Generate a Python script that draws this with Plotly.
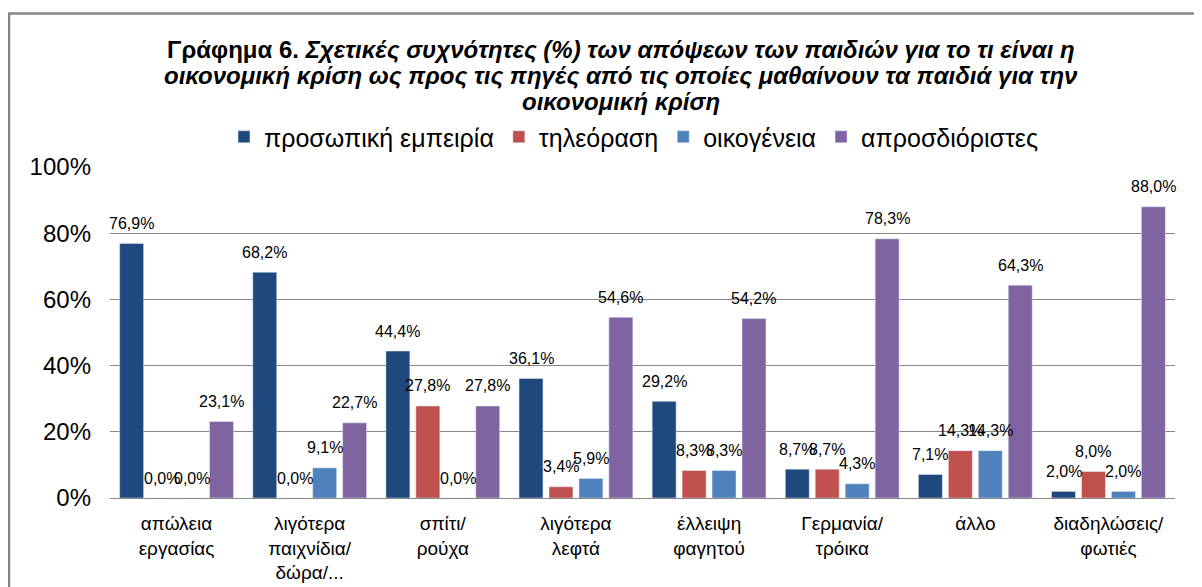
import plotly.graph_objects as go

categories = ["απώλεια<br>εργασίας", "λιγότερα<br>παιχνίδια/<br>δώρα/...", "σπίτι/<br>ρούχα",
              "λιγότερα<br>λεφτά", "έλλειψη<br>φαγητού", "Γερμανία/<br>τρόικα", "άλλο",
              "διαδηλώσεις/<br>φωτιές"]
series_names = ["προσωπική εμπειρία", "τηλεόραση", "οικογένεια", "απροσδιόριστες"]
personal = [76.9, 68.2, 44.4, 36.1, 29.2, 8.7, 7.1, 2.0]
tv = [0.0, 0.0, 27.8, 3.4, 8.3, 8.7, 14.3, 8.0]
family = [0.0, 9.1, 0.0, 5.9, 8.3, 4.3, 14.3, 2.0]
unspecified = [23.1, 22.7, 27.8, 54.6, 54.2, 78.3, 64.3, 88.0]
colors = ["#1F497D", "#C0504D", "#4F81BD", "#8064A2"]
y_ticks = [0, 20, 40, 60, 80, 100]
title_lines = [
    "<b>Γράφημα 6. <i>Σχετικές συχνότητες (%) των απόψεων των παιδιών για το τι είναι η</i></b>",
    "<b><i>οικονομική κρίση ως προς τις πηγές από τις οποίες μαθαίνουν τα παιδιά για την</i></b>",
    "<b><i>οικονομική κρίση</i></b>",
]

FONT = "Liberation Sans, Arial, sans-serif"
PAGE_OFF = 8  # default page body margin of the browser
W, H = 1202 - PAGE_OFF, 587 - PAGE_OFF
L, R, T, B = 110 - PAGE_OFF, 27, 167 - PAGE_OFF, 89
pw, ph = W - L - R, H - T - B

def py(pix):  # screen pixel row -> paper y
    return 1 + (T - (pix - PAGE_OFF)) / ph

def px(pix):  # screen pixel column -> paper x
    return (pix - PAGE_OFF - L) / pw

bar_w, step = 0.18, 0.225
fig = go.Figure()
annotations = []
for k, (name, vals, col) in enumerate(zip(series_names, [personal, tv, family, unspecified], colors)):
    off = -(3 * step + bar_w) / 2 + k * step
    fig.add_trace(go.Bar(x=list(range(len(categories))), y=vals, name=name, marker_color=col,
                         width=bar_w, offset=off))
    for i, v in enumerate(vals):
        annotations.append(dict(x=i + off + bar_w / 2, y=v, xref="x", yref="y",
                                text=f"{v:.1f}%".replace(".", ","), showarrow=False,
                                xanchor="center", yanchor="middle", yshift=20,
                                font=dict(family=FONT, size=16, color="#000000")))

for line, ypix in zip(title_lines, [50, 75, 101]):
    annotations.append(dict(x=px(621), y=py(ypix), xref="paper", yref="paper", text=line,
                            showarrow=False, xanchor="center", yanchor="middle",
                            font=dict(family=FONT, size=24, color="#000000")))

fig.update_layout(
    width=W, height=H,
    margin=dict(l=L, r=R, t=T, b=B, autoexpand=False),
    paper_bgcolor="white", plot_bgcolor="white",
    barmode="overlay",
    font=dict(family=FONT, color="#000000"),
    showlegend=True,
    legend=dict(orientation="h", x=px(224), xanchor="left", y=py(137), yanchor="middle",
                font=dict(size=25, family=FONT), itemwidth=30, bgcolor="rgba(0,0,0,0)",
                tracegroupgap=0),
    yaxis=dict(range=[0, 100], tickvals=y_ticks, ticktext=[f"{v}%" for v in y_ticks],
               showgrid=True, gridcolor="#868686", gridwidth=1,
               zeroline=True, zerolinecolor="#868686", zerolinewidth=1,
               tickfont=dict(size=24, family=FONT), ticks="", ticklabelstandoff=18,
               automargin=False, fixedrange=True),
    xaxis=dict(range=[-0.5, len(categories) - 0.5], tickvals=list(range(len(categories))),
               ticktext=categories, showline=False, showgrid=False, zeroline=False, ticks="",
               tickfont=dict(size=19, family=FONT), ticklabelstandoff=12, automargin=False),
    annotations=annotations,
    shapes=[dict(type="rect", xref="paper", yref="paper",
                 x0=px(9), x1=px(1260), y0=py(640), y1=py(13.5),
                 line=dict(color="#868686", width=2.5), fillcolor="rgba(0,0,0,0)")],
)
fig.write_html("out.html")
